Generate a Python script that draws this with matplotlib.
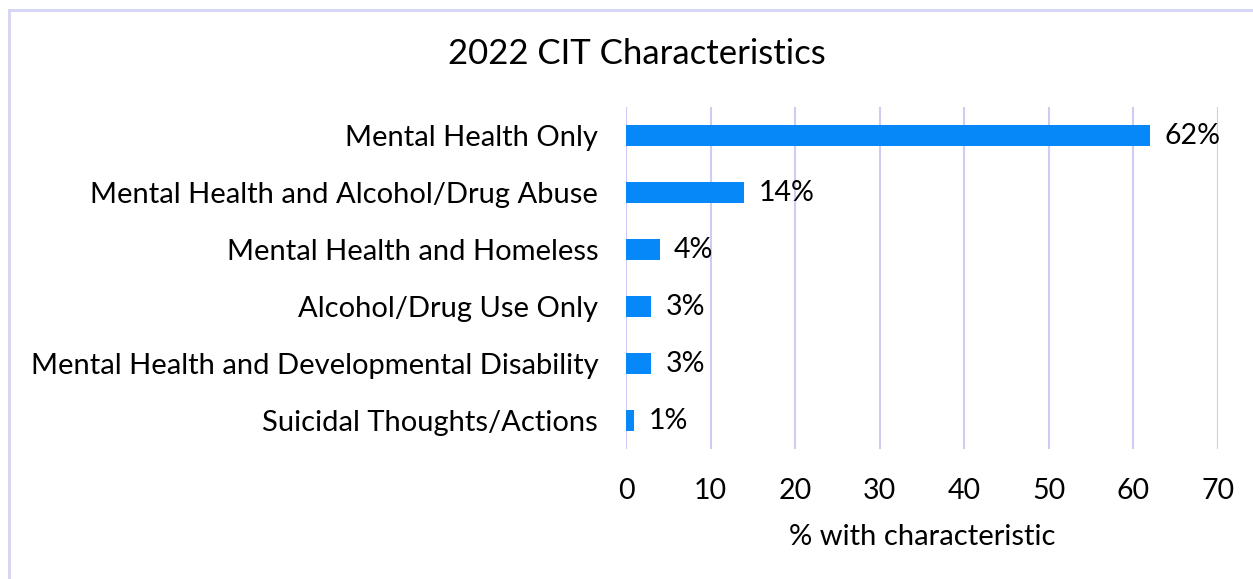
import matplotlib
matplotlib.use("Agg")
from matplotlib import pyplot as plt
from matplotlib.lines import Line2D

# data
categories = ["Mental Health Only",
              "Mental Health and Alcohol/Drug Abuse",
              "Mental Health and Homeless",
              "Alcohol/Drug Use Only",
              "Mental Health and Developmental Disability",
              "Suicidal Thoughts/Actions"]
values = [62, 14, 4, 3, 3, 1]
xticks = [0, 10, 20, 30, 40, 50, 60, 70]

plt.rcParams['font.family'] = ['Lato', 'DejaVu Sans']

fig = plt.figure(figsize=(12.53, 5.79), dpi=100)
ax = fig.add_axes([0.4996, 0.2245, 0.4724, 0.5905])

ypos = list(range(len(categories)))
ax.barh(ypos, values, height=0.36, color="#0788F9", zorder=3)
for y, v in zip(ypos, values):
    ax.text(v + 1.7, y, f"{v}%", va="center", ha="left", fontsize=20.5)

ax.set_ylim(len(categories) - 0.5, -0.5)
ax.set_xlim(0, 70)
ax.set_yticks(ypos)
ax.set_yticklabels(categories, fontsize=21)
ax.set_xticks(xticks)
ax.set_xticklabels([str(t) for t in xticks], fontsize=20.5)
ax.tick_params(length=0, axis='y', pad=20)
ax.tick_params(length=0, axis='x', pad=21)
ax.xaxis.grid(True, color="#CCCCF5", linewidth=1.5, zorder=0)
for s in ax.spines.values():
    s.set_visible(False)
ax.set_xlabel("% with characteristic", fontsize=21, labelpad=14)

fig.text(0.508, 0.906, "2022 CIT Characteristics", ha="center", va="center", fontsize=25)

# chart frame (left and top edges visible)
fig.add_artist(Line2D([9/1253, 9/1253], [0, 1 - 10/579], transform=fig.transFigure,
                      color="#D4D4F4", linewidth=2))
fig.add_artist(Line2D([9/1253, 1], [1 - 10/579, 1 - 10/579], transform=fig.transFigure,
                      color="#D4D4F4", linewidth=2))

fig.savefig("out.png", dpi=100)
